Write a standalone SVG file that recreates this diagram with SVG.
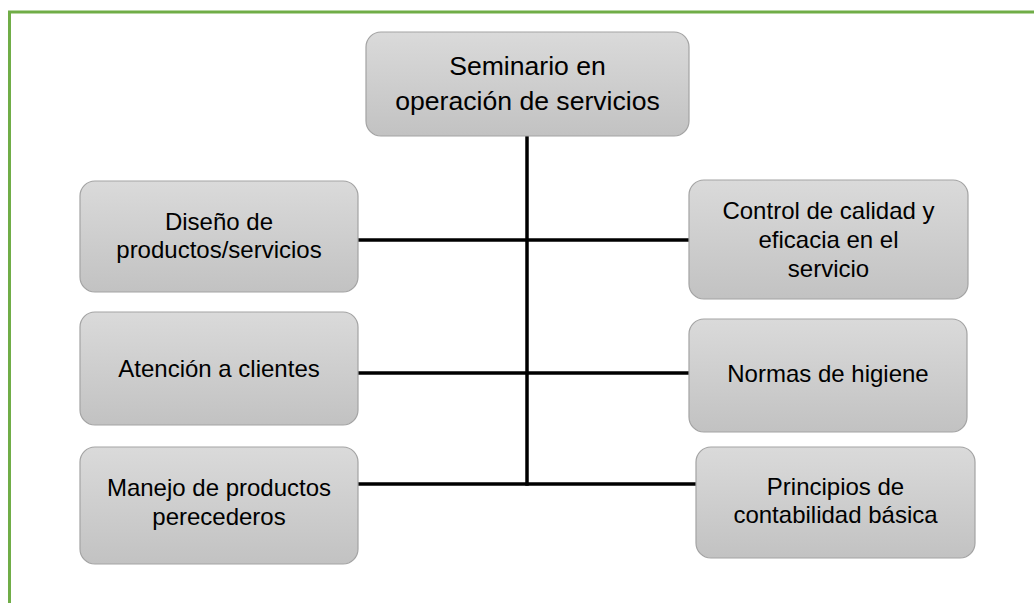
<svg xmlns="http://www.w3.org/2000/svg" width="1034" height="603" viewBox="0 0 1034 603">
<defs>
<linearGradient id="g" x1="0" y1="0" x2="0" y2="1">
<stop offset="0" stop-color="#dadada"/>
<stop offset="1" stop-color="#c2c2c2"/>
</linearGradient>
<style>
.box{fill:url(#g);stroke:#a3a3a3;stroke-width:1.2}
.t{font-family:"Liberation Sans",Arial,sans-serif;font-size:24px;fill:#000;text-anchor:middle}
.tt{font-size:26.6px}
.c{stroke:#000;stroke-width:3.5;fill:none}
</style>
</defs>
<rect width="1034" height="603" fill="#fff"/>
<path d="M9.5 620 V12 H1050" fill="none" stroke="#70ad47" stroke-width="3"/>
<g id="connectors">
<line class="c" x1="527" y1="136" x2="527" y2="485.7" stroke-width="4"/>
<line class="c" x1="358" y1="240" x2="689" y2="240"/>
<line class="c" x1="358" y1="373" x2="689" y2="373"/>
<line class="c" x1="358" y1="484" x2="696" y2="484"/>
</g>
<g id="n-seminario">
<rect class="box" x="366" y="32" width="323" height="104" rx="15"/>
<text class="t tt" x="527.5" y="75">Seminario en</text>
<text class="t tt" x="527.5" y="110">operación de servicios</text>
</g>
<g id="n-diseno">
<rect class="box" x="80" y="181" width="278" height="111" rx="15"/>
<text class="t" x="219" y="230">Diseño de</text>
<text class="t" x="219" y="258">productos/servicios</text>
</g>
<g id="n-control">
<rect class="box" x="689" y="180" width="279" height="119" rx="15"/>
<text class="t" x="828.5" y="219">Control de calidad y</text>
<text class="t" x="828.5" y="248">eficacia en el</text>
<text class="t" x="828.5" y="277">servicio</text>
</g>
<g id="n-atencion">
<rect class="box" x="80" y="312" width="278" height="113" rx="15"/>
<text class="t" x="219" y="377">Atención a clientes</text>
</g>
<g id="n-normas">
<rect class="box" x="689" y="319" width="278" height="113" rx="15"/>
<text class="t" x="828" y="382">Normas de higiene</text>
</g>
<g id="n-manejo">
<rect class="box" x="80" y="447" width="278" height="117" rx="15"/>
<text class="t" x="219" y="496">Manejo de productos</text>
<text class="t" x="219" y="525">perecederos</text>
</g>
<g id="n-principios">
<rect class="box" x="696" y="447" width="279" height="111" rx="15"/>
<text class="t" x="835.5" y="495">Principios de</text>
<text class="t" x="835.5" y="523">contabilidad básica</text>
</g>
</svg>
